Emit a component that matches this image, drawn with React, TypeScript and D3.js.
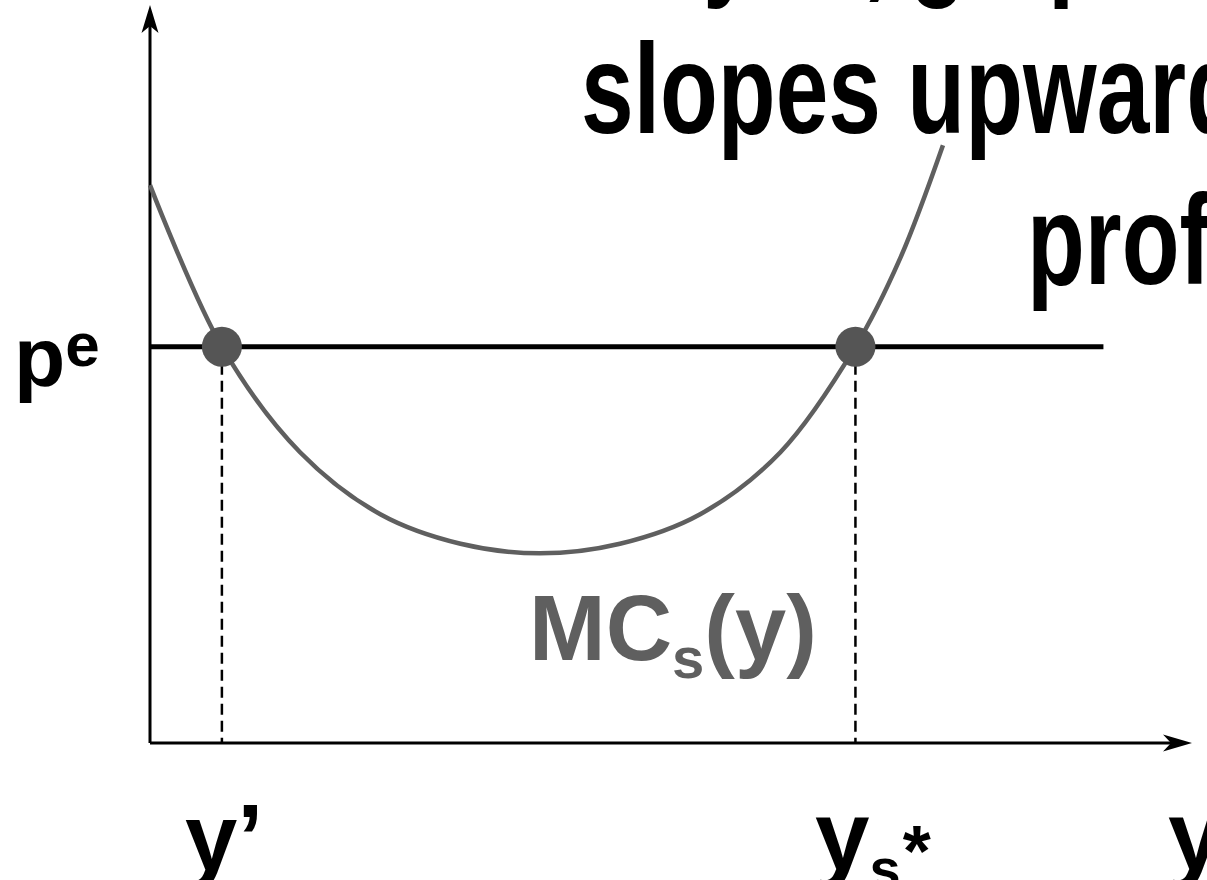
import React from "react";
import * as d3 from "d3";

// Marginal cost curve MC_s(y) (data units 0..100)
const curveX = [0, 6.9, 14.4, 22.1, 29.8, 37.4, 45.1, 52.8, 60.5, 67.7, 72.0, 76.1];
const curveY = [75.6, 53.7, 39.4, 31.0, 27.0, 25.7, 27.0, 31.0, 39.4, 53.7, 65.7, 81.0];
const priceLevel = 53.7; // p^e
const priceLineEnd = 91.5;
const yPrime = 6.9; // y'
const yStar = 67.7; // y_s*

const W = 1207;
const H = 880;
const FONT = "'Liberation Sans', Arial, Helvetica, sans-serif";
const GREY = "#5f5f5f";

export default function App() {
  const x = d3.scaleLinear().domain([0, 100]).range([150, 1192]);
  const y = d3.scaleLinear().domain([0, 100]).range([743, 5]);

  const pts: [number, number][] = curveX.map((v, i) => [v, curveY[i]]);
  const line = d3
    .line<[number, number]>()
    .x((d) => x(d[0]))
    .y((d) => y(d[1]))
    .curve(d3.curveCatmullRom.alpha(0.5));

  const ox = x(0);
  const oy = y(0);
  const topY = y(100);
  const rightX = x(100);

  const upArrow = `M${ox},${topY} L${ox + 8.5},${topY + 28} L${ox},${topY + 21} L${ox - 8.5},${topY + 28} Z`;
  const rightArrow = `M${rightX},${oy} L${rightX - 29},${oy - 8.5} L${rightX - 21},${oy} L${rightX - 29},${oy + 8.5} Z`;

  const title = (tx: number, ty: number, s: string) => (
    <text
      transform={`translate(${tx},${ty}) scale(0.74,1)`}
      fontSize={128}
      fontWeight="bold"
      fontFamily={FONT}
      fill="#000"
    >
      {s}
    </text>
  );

  return (
    <svg
      width={W}
      height={H}
      style={{ position: "absolute", left: 0, top: 0, background: "#fff" }}
    >
      <rect x={0} y={0} width={W} height={H} fill="#fff" />
      {/* clipped top line of the slide text */}
      {title(703, -18, "y")}
      {title(863, -18, ",")}
      {title(909, -18, "g")}
      {title(1048, -18, "p")}
      {title(581, 133, "slopes upward")}
      {title(1027, 284, "profit")}

      {/* axes */}
      <line x1={ox} y1={oy} x2={ox} y2={topY + 15} stroke="#000" strokeWidth={3} />
      <line x1={ox} y1={oy} x2={rightX - 15} y2={oy} stroke="#000" strokeWidth={3} />
      <path d={upArrow} fill="#000" />
      <path d={rightArrow} fill="#000" />

      {/* dashed drop lines */}
      <line
        x1={x(yPrime)}
        y1={y(priceLevel)}
        x2={x(yPrime)}
        y2={oy}
        stroke="#000"
        strokeWidth={2.5}
        strokeDasharray="11,6"
      />
      <line
        x1={x(yStar)}
        y1={y(priceLevel)}
        x2={x(yStar)}
        y2={oy}
        stroke="#000"
        strokeWidth={2.5}
        strokeDasharray="11,6"
      />

      {/* MC curve */}
      <path d={line(pts) || ""} fill="none" stroke={GREY} strokeWidth={4.5} />

      {/* price line */}
      <line
        x1={ox}
        y1={y(priceLevel)}
        x2={x(priceLineEnd)}
        y2={y(priceLevel)}
        stroke="#000"
        strokeWidth={5}
      />

      {/* intersection dots */}
      <circle cx={x(yPrime)} cy={y(priceLevel)} r={20} fill="#555" />
      <circle cx={x(yStar)} cy={y(priceLevel)} r={20} fill="#555" />

      {/* p^e label */}
      <text x={14} y={386} fontFamily={FONT} fontWeight="bold" fontSize={84} fill="#000">
        p
        <tspan fontSize={62} dy={-20}>e</tspan>
      </text>

      {/* MC_s(y) label */}
      <text x={529} y={660} fontFamily={FONT} fontWeight="bold" fontSize={92} fill={GREY}>
        MC
        <tspan fontSize={58} dy={18}>s</tspan>
        <tspan dy={-18}>(y)</tspan>
      </text>

      {/* x-axis labels */}
      <text x={185} y={870} fontFamily={FONT} fontWeight="bold" fontSize={94} fill="#000">
        y’
      </text>
      <text x={815} y={870} fontFamily={FONT} fontWeight="bold" fontSize={98} fill="#000">
        y
        <tspan fontSize={56} dy={18}>s</tspan>
        <tspan fontSize={72} dx={2} dy={-12}>*</tspan>
      </text>
      <text x={1168} y={870} fontFamily={FONT} fontWeight="bold" fontSize={98} fill="#000">
        y
      </text>
    </svg>
  );
}
